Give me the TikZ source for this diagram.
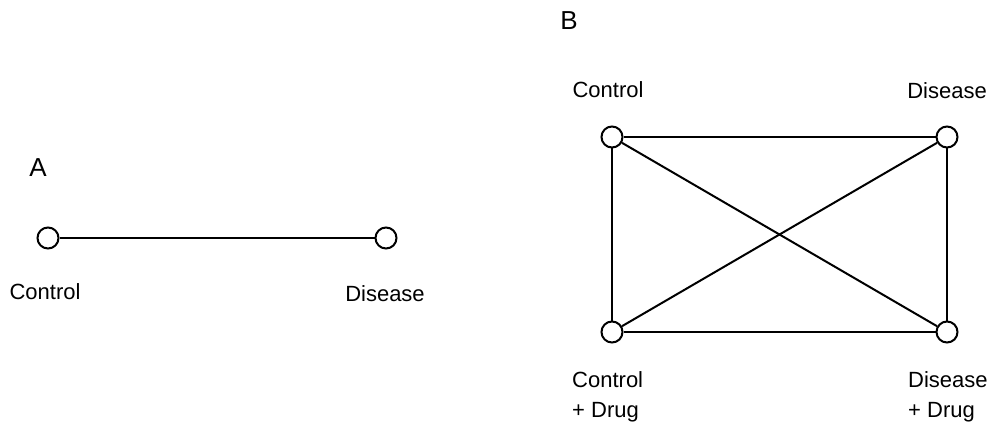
\documentclass[tikz,border=0pt]{standalone}
\usepackage{fontspec}
\setmainfont{Liberation Sans}
\usetikzlibrary{positioning}
\tikzset{
    vertex/.style={circle,draw,line width=2pt,fill=white,minimum size=21pt,inner sep=0pt},
    tag/.style={inner sep=0pt,font=\fontsize{22}{30}\selectfont,align=left},
    panel/.style={inner sep=0pt,font=\fontsize{26}{30}\selectfont},
    edge/.style={line width=2pt}
}
\begin{document}
\begin{tikzpicture}[x=1pt,y=-1pt]
    \useasboundingbox (0,0) rectangle (992,422);
    % panel A
    \node[panel] (A) at (38,168) {A};
    \node[vertex] (ctrlA) at (48,238) {};
    \node[vertex] (disA) at (386,238) {};
    \draw[edge] (ctrlA) -- (disA);
    \node[tag] (ctrlAtag) at (45,292) {Control};
    \node[tag] (disAtag) at (385,294) {Disease};
    % panel B
    \node[panel] (B) at (569,21) {B};
    \node[vertex] (ctrl) at (612,137) {};
    \node[vertex] (dis) at (947,137) {};
    \node[vertex] (ctrldrug) at (612,332) {};
    \node[vertex] (disdrug) at (947,332) {};
    \draw[edge] (ctrl) -- (dis);
    \draw[edge] (ctrl) -- (ctrldrug);
    \draw[edge] (ctrl) -- (disdrug);
    \draw[edge] (dis) -- (disdrug);
    \draw[edge] (dis) -- (ctrldrug);
    \draw[edge] (ctrldrug) -- (disdrug);
    \node[tag] (ctrltag) at (608,90) {Control};
    \node[tag] (distag) at (947,91) {Disease};
    \node[tag,anchor=north west] (ctrldrugtag) at (572,371) {Control\\+ Drug};
    \node[tag,anchor=north west] (disdrugtag) at (908,371) {Disease\\+ Drug};
\end{tikzpicture}
\end{document}
